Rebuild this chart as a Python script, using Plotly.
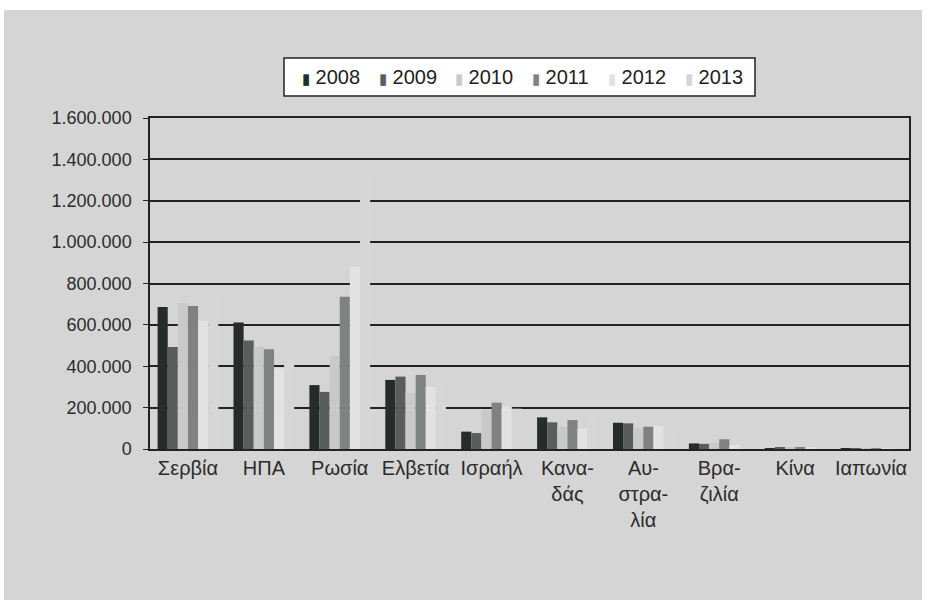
import plotly.graph_objects as go

# Categories (countries) and yearly values
countries = ["Σερβία", "ΗΠΑ", "Ρωσία", "Ελβετία", "Ισραήλ",
             "Κανα-<br>δάς", "Αυ-<br>στρα-<br>λία", "Βρα-<br>ζιλία", "Κίνα", "Ιαπωνία"]
years = ["2008", "2009", "2010", "2011", "2012", "2013"]

v2008 = [686000, 611000, 309000, 334000, 84000, 153000, 127000, 27000, 4000, 3000]
v2009 = [493000, 524000, 276000, 350000, 77000, 129000, 124000, 25000, 5000, 3000]
v2010 = [705000, 495000, 450000, 270000, 189000, 108000, 100000, 30000, 6000, 3000]
v2011 = [691000, 482000, 736000, 358000, 224000, 140000, 108000, 47000, 8000, 4000]
v2012 = [620000, 390000, 881000, 300000, 205000, 100000, 112000, 20000, 7000, 3000]
v2013 = [769000, 455000, 1349000, 340000, 195000, 180000, 118000, 15000, 6000, 3000]

series = [v2008, v2009, v2010, v2011, v2012, v2013]
colors = ["#262c2b", "#595e5c", "#c9c9c9", "#7e8280", "#e2e2e2", "#d6d6d6"]

y_ticks = [0, 200000, 400000, 600000, 800000, 1000000, 1200000, 1400000, 1600000]

fig = go.Figure()
for name, vals, col in zip(years, series, colors):
    fig.add_trace(go.Bar(x=countries, y=vals, name=name, showlegend=False,
                         marker=dict(color=col, line=dict(width=0))))

# plot-area geometry in pixels (used for paper-coordinate conversion)
W, H = 935, 600
L, R, T, B = 150, 26, 118, 151
pw, ph = W - L - R, H - T - B

def px_x(px):
    return (px - L) / pw

def px_y(py):
    return (H - B - py) / ph

# boxed key above the plot: small colour block followed by the year
key_left, key_step = 300, 76.6
annotations = []
for i, (name, col) in enumerate(zip(years, colors)):
    annotations.append(dict(
        xref="paper", yref="paper", x=px_x(key_left + i * key_step), y=px_y(77),
        xanchor="left", yanchor="middle", showarrow=False,
        text=f"<span style='color:{col};font-size:15px'>▮</span> {name}",
        font=dict(family="Liberation Sans, Arial", size=20, color="#222"),
    ))

shapes = [
    dict(type="rect", xref="paper", yref="paper", layer="below",
         x0=px_x(4), x1=px_x(922), y0=px_y(600), y1=px_y(10),
         fillcolor="#d5d5d5", line=dict(width=0)),
    dict(type="rect", xref="paper", yref="paper", layer="above",
         x0=px_x(284), x1=px_x(755), y0=px_y(96), y1=px_y(58),
         fillcolor="white", line=dict(color="#222", width=1.5)),
]

fig.update_layout(
    width=W, height=H,
    margin=dict(l=L, r=R, t=T, b=B),
    paper_bgcolor="white",
    plot_bgcolor="white",
    separators=",.",
    barmode="group",
    bargap=0.2,
    bargroupgap=0,
    font=dict(family="Liberation Sans, Arial", size=16, color="#2b2b2b"),
    showlegend=False,
    xaxis=dict(showline=True, linecolor="#222", linewidth=1.5, mirror=True,
               ticks="", tickfont=dict(family="Liberation Sans Narrow, Liberation Sans, Arial",
                                        size=20, color="#2b2b2b"),
               showgrid=False),
    yaxis=dict(range=[0, 1600000], tickvals=y_ticks, tickformat=",d",
               showline=True, linecolor="#222", linewidth=1.5, mirror=True,
               showgrid=True, gridcolor="#222", gridwidth=1.5,
               ticks="outside", ticklen=5, tickcolor="#222", ticklabelstandoff=8,
               tickfont=dict(size=18, color="#2b2b2b"), zeroline=False),
    shapes=shapes,
    annotations=annotations,
)

fig.write_html("out.html")
